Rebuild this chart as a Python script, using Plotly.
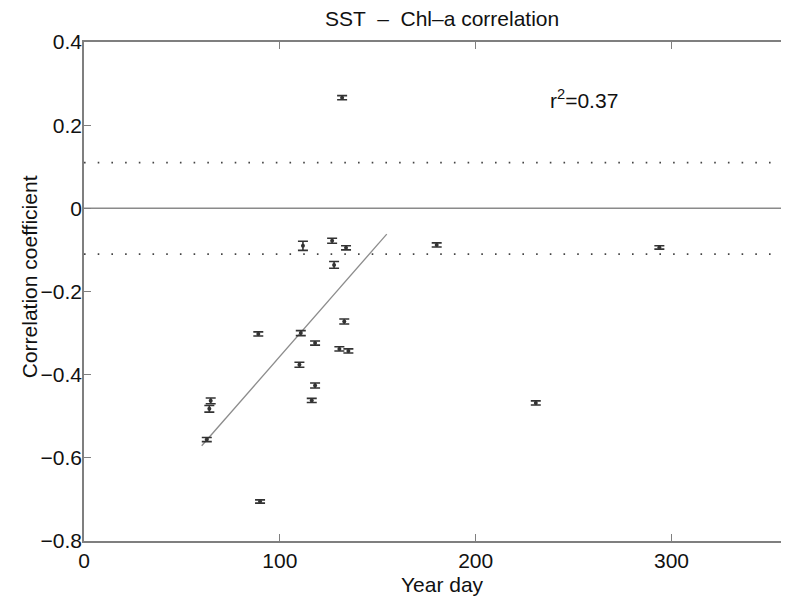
import plotly.graph_objects as go

# Data
year_day = [131.8, 111.8, 126.7, 133.8, 127.7, 180.1, 293.8, 230.7, 89.0, 110.7,
            118.0, 132.9, 130.4, 135.0, 110.0, 118.0, 116.3, 64.7, 64.0, 62.7, 89.9]
corr = [0.266, -0.090, -0.078, -0.095, -0.136, -0.088, -0.094, -0.468, -0.302, -0.300,
        -0.324, -0.272, -0.338, -0.343, -0.376, -0.426, -0.462, -0.463, -0.482, -0.556, -0.705]
corr_err = [0.005, 0.011, 0.006, 0.005, 0.008, 0.005, 0.004, 0.005, 0.005, 0.006,
            0.005, 0.006, 0.005, 0.005, 0.006, 0.006, 0.005, 0.007, 0.008, 0.005, 0.004]

fit_x = [60.1, 154.6]
fit_y = [-0.571, -0.062]

signif_levels = [0.11, -0.11]
zero_level = [0.0]

x_ticks = [0, 100, 200, 300]
x_ticklabels = ["0", "100", "200", "300"]
y_ticks = [-0.8, -0.6, -0.4, -0.2, 0, 0.2, 0.4]
y_ticklabels = ["\u22120.8", "\u22120.6", "\u22120.4", "\u22120.2", "0", "0.2", "0.4"]

FONT = "Liberation Sans, Arial, Helvetica, sans-serif"
FS = 21
AXC = "#7f7f7f"
TXT = "#111111"

fig = go.Figure()

# zero line
fig.add_trace(go.Scatter(x=[0, 360], y=[zero_level[0]] * 2, mode="lines",
                         line=dict(color="#8a8a8a", width=1.5), hoverinfo="skip",
                         showlegend=False))
# significance levels
for lv in signif_levels:
    fig.add_trace(go.Scatter(x=[0, 360], y=[lv, lv], mode="lines",
                             line=dict(color="#444444", width=1.6, dash="1.6px,12.1px"),
                             hoverinfo="skip", showlegend=False))
# regression line
fig.add_trace(go.Scatter(x=fit_x, y=fit_y, mode="lines",
                         line=dict(color="#8c8c8c", width=1.3), showlegend=False))
# points with error bars
fig.add_trace(go.Scatter(x=year_day, y=corr, mode="markers",
                         marker=dict(size=4, color="#333333"),
                         error_y=dict(type="data", array=corr_err, visible=True,
                                      color="#333333", thickness=1.6, width=5),
                         showlegend=False))

fig.add_annotation(x=237, y=0.263, xref="x", yref="y", xanchor="left", yanchor="middle",
                   text="r<sup>2</sup>=0.37", showarrow=False,
                   font=dict(family=FONT, size=FS, color=TXT))
fig.add_annotation(x=0.508, y=1.0475, xref="paper", yref="paper", xanchor="center",
                   yanchor="middle", text="SST  \u2013  Chl\u2013a correlation", showarrow=False,
                   font=dict(family=FONT, size=FS, color=TXT))
fig.add_annotation(x=0.508, y=-0.087, xref="paper", yref="paper", xanchor="center",
                   yanchor="middle", text="Year day", showarrow=False,
                   font=dict(family=FONT, size=FS, color=TXT))
fig.add_annotation(x=-0.077, y=0.53, xref="paper", yref="paper", xanchor="center",
                   yanchor="middle", text="Correlation coefficient", textangle=-90,
                   showarrow=False, font=dict(family=FONT, size=FS, color=TXT))

# the page body adds an 8 px margin, so the figure is sized 8 px smaller
fig.update_layout(
    width=781, height=589,
    margin=dict(l=76, r=0, t=34, b=56),
    paper_bgcolor="white", plot_bgcolor="white",
    font=dict(family=FONT, size=FS, color=TXT),
    xaxis=dict(range=[0, 360], tickvals=x_ticks, ticktext=x_ticklabels, ticks="inside",
               ticklen=7, tickcolor=AXC, tickwidth=1.2, showline=True, linecolor=AXC,
               linewidth=1.6, mirror="ticks", showgrid=False, zeroline=False,
               automargin=False),
    yaxis=dict(range=[-0.8, 0.4], tickvals=y_ticks, ticktext=y_ticklabels, ticks="inside",
               ticklen=7, tickcolor=AXC, tickwidth=1.2, showline=True, linecolor=AXC,
               linewidth=1.6, mirror=False, showgrid=False, zeroline=False,
               automargin=False, ticklabelstandoff=-4),
)

fig.write_html("out.html")
